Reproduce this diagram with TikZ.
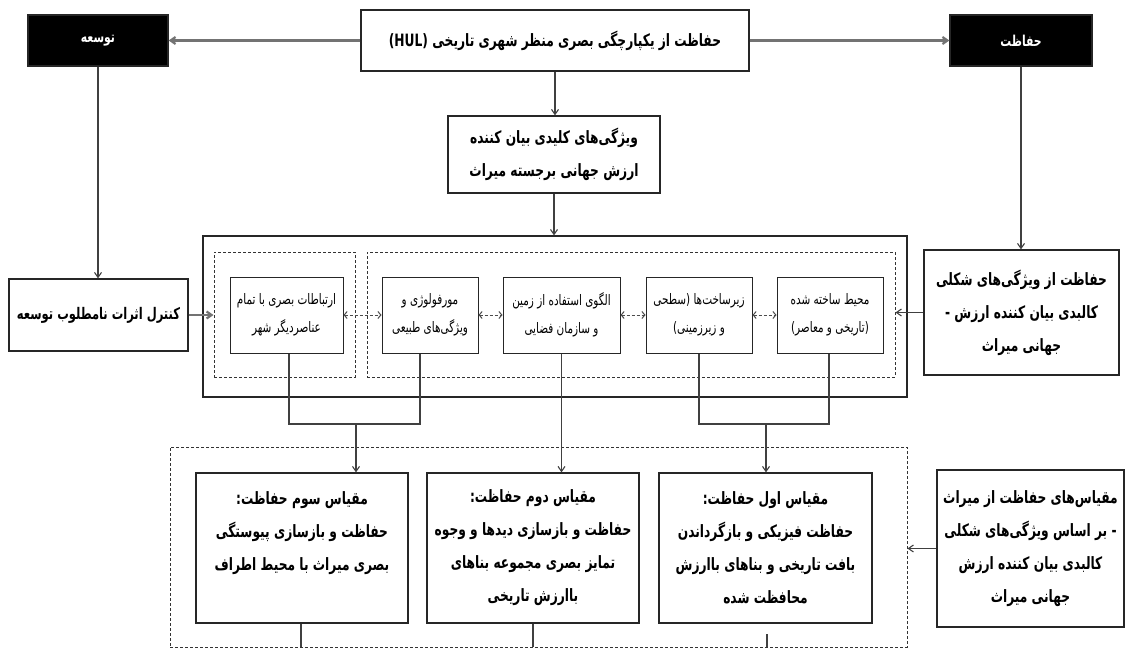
\documentclass[tikz,border=0pt]{standalone}
\usepackage{fontspec}
\newfontfamily\fafont[Script=Arabic,FakeStretch=0.72]{DejaVu Sans}
\TeXXeTstate=1
\usetikzlibrary{arrows.meta}
\newcommand\rl[1]{\beginR #1\endR}

\begin{document}
\begin{tikzpicture}[x=1pt,y=-1pt,
  box/.style={draw=black!85,line width=1.3pt,fill=white,align=center,inner sep=1pt,
    font=\fafont\bfseries\fontsize{17}{33}\selectfont},
  dark/.style={box,fill=black,text=white,font=\fafont\bfseries\fontsize{15}{20}\selectfont},
  item/.style={box,line width=1pt,font=\fafont\fontsize{14.5}{28}\selectfont},
  dashbox/.style={draw=black!80,line width=1pt,dash pattern=on 3pt off 2pt},
  frame/.style={draw=black!85,line width=1.2pt},
  link/.style={draw=black!75,line width=1.1pt},
  arr/.style={link,-{Straight Barb[length=5pt,width=7pt]}},
  fatarr/.style={arr,line width=2.2pt,draw=black!55},
  dlink/.style={draw=black!70,line width=1pt,densely dashed,
    {Straight Barb[length=3pt,width=7pt]}-{Straight Barb[length=3pt,width=7pt]}},
]
  \useasboundingbox (0,0) rectangle (1126,650);

  % frames
  \node[frame,minimum width=704pt,minimum height=161pt] (attr) at (555,316.5) {};
  \node[dashbox,minimum width=141pt,minimum height=125pt] (dl) at (284.5,314.5) {};
  \node[dashbox,minimum width=528pt,minimum height=125pt] (dr) at (631,314.5) {};
  \node[dashbox,minimum width=737pt,minimum height=200pt] (sc) at (538.5,547) {};

  % top row
  \node[box,minimum width=388pt,minimum height=61pt] (hul) at (555,40.5)
    {\rl{حفاظت از یکپارچگی بصری منظر شهری تاریخی \beginL(HUL)\endL}};
  \node[dark,minimum width=140pt,minimum height=51pt] (dev) at (98,40.5) {\rl{توسعه}};
  \node[dark,minimum width=142pt,minimum height=51pt] (cons) at (1021,40.5) {\rl{حفاظت}};
  \node[box,minimum width=212pt,minimum height=77pt] (ouv) at (554,154.5)
    {\rl{ویژگی‌های کلیدی بیان کننده}\\\rl{ارزش جهانی برجسته  میراث}};

  % middle row
  \node[box,minimum width=179pt,minimum height=72pt,font=\fafont\bfseries\fontsize{16}{33}\selectfont] (ctrl) at (98.5,315)
    {\rl{کنترل اثرات نامطلوب توسعه}};
  \node[box,minimum width=195pt,minimum height=125pt] (phys) at (1021.5,312.5)
    {\rl{حفاظت از ویژگی‌های شکلی}\\\rl{کالبدی بیان کننده ارزش -}\\\rl{جهانی  میراث}};
  \node[item,minimum width=113pt,minimum height=76pt] (vis) at (286.5,315)
    {\rl{ارتباطات بصری با تمام}\\\rl{عناصردیگر شهر}};
  \node[item,minimum width=96pt,minimum height=76pt] (mor) at (430,315)
    {\rl{مورفولوژی و}\\\rl{ویژگی‌های طبیعی}};
  \node[item,minimum width=117pt,minimum height=76pt] (lu) at (561.5,315)
    {\rl{الگوی استفاده از زمین}\\\rl{و سازمان فضایی}};
  \node[item,minimum width=106pt,minimum height=76pt] (inf) at (699,315)
    {\rl{زیرساخت‌ها (سطحی}\\\rl{و زیرزمینی)}};
  \node[item,minimum width=106pt,minimum height=76pt] (blt) at (830,315)
    {\rl{محیط ساخته شده}\\\rl{(تاریخی و معاصر)}};

  % bottom row
  \node[box,minimum width=212pt,minimum height=150pt] (s3) at (302,548)
    {\rl{مقیاس سوم حفاظت:}\\\rl{حفاظت و بازسازی پیوستگی}\\\rl{بصری میراث با محیط اطراف}\\\mbox{}};
  \node[box,minimum width=212pt,minimum height=150pt] (s2) at (533,548)
    {\rl{مقیاس دوم حفاظت:}\\\rl{حفاظت و بازسازی دیدها و وجوه}\\\rl{تمایز بصری مجموعه بناهای}\\\rl{باارزش تاریخی}};
  \node[box,minimum width=213pt,minimum height=150pt] (s1) at (765.5,548)
    {\rl{مقیاس اول حفاظت:}\\\rl{حفاظت فیزیکی و بازگرداندن}\\\rl{بافت تاریخی و بناهای باارزش}\\\rl{محافظت شده}};
  \node[box,minimum width=187pt,minimum height=157pt] (scales) at (1030.5,548.5)
    {\rl{مقیاس‌های حفاظت از میراث}\\\rl{- بر اساس ویژگی‌های شکلی}\\\rl{کالبدی بیان کننده ارزش}\\\rl{جهانی میراث}};

  % connectors
  \draw[fatarr] (hul) -- (dev);
  \draw[fatarr] (hul) -- (cons);
  \draw[arr] (hul.south) -- (hul.south |- ouv.north);
  \draw[arr] (ouv) -- (ouv |- attr.north);
  \draw[arr] (dev.south) -- (dev.south |- ctrl.north);
  \draw[arr] (cons.south) -- (cons.south |- phys.north);
  \draw[fatarr] (ctrl.east) -- (ctrl.east -| dl.west);
  \draw[arr] (phys.west) -- (phys.west -| dr.east);
  \draw[arr] (scales.west) -- (scales.west -| sc.east);

  \draw[dlink] (vis) -- (mor);
  \draw[dlink] (mor) -- (lu);
  \draw[dlink] (lu) -- (inf);
  \draw[dlink] (inf) -- (blt);

  \coordinate (j3) at (356,424);
  \coordinate (j1) at (766,424);
  \draw[link] ([xshift=2.5pt]vis.south) |- (j3) -| ([xshift=-10pt]mor.south);
  \draw[arr] (j3) -- (j3 |- s3.north);
  \draw[arr] (lu.south) -- (lu.south |- s2.north);
  \draw[link] (inf.south) |- (j1) -| ([xshift=-1pt]blt.south);
  \draw[arr] (j1) -- (j1 |- s1.north);

  \coordinate (e3) at (301,647);
  \coordinate (e2) at (533,647);
  \coordinate (e1a) at (767,634);
  \coordinate (e1) at (767,647);
  \draw[link] (s3.south -| e3) -- (e3);
  \draw[link] (s2.south) -- (e2);
  \draw[link] (e1a) -- (e1);
\end{tikzpicture}
\end{document}
